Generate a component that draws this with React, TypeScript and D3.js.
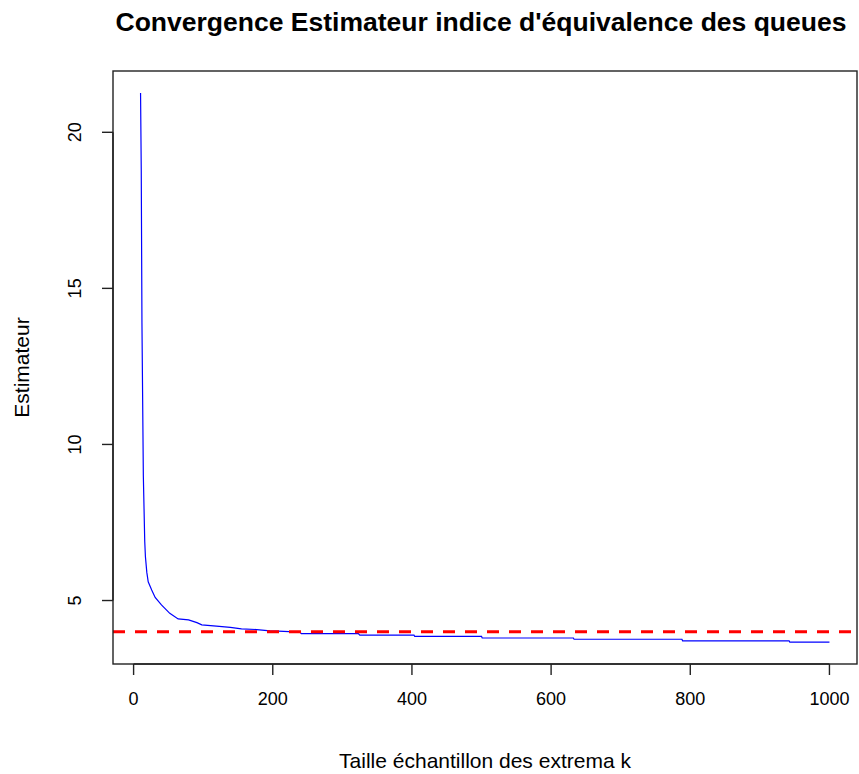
import React from "react";
import { scaleLinear, line } from "d3";

// Hill-type estimator
const kValues = [
  10, 11, 12, 14, 16, 17, 19, 21, 26, 31, 40, 52, 64, 79, 91, 98, 119, 139, 155, 177, 196, 208,
  239, 241, 323, 325, 403, 404, 500, 501, 632, 633, 788, 789, 942, 943, 1000,
];
const estimates = [
  21.26, 18.8, 13.9, 9.0, 6.9, 6.4, 5.9, 5.6, 5.34, 5.1, 4.86, 4.59, 4.41, 4.38, 4.29, 4.22, 4.18,
  4.14, 4.09, 4.07, 4.03, 4.02, 3.99, 3.94, 3.94, 3.89, 3.89, 3.85, 3.85, 3.8, 3.8, 3.76, 3.76,
  3.71, 3.71, 3.67, 3.67,
];
const referenceValue = 4;
const xTicks = [0, 200, 400, 600, 800, 1000];
const yTicks = [5, 10, 15, 20];

const title = "Convergence Estimateur indice d'équivalence des queues";
const xLabel = "Taille échantillon des extrema k";
const yLabel = "Estimateur";

const W = 859;
const H = 774;
const plot = { left: 113, right: 857, top: 71, bottom: 664 };
const font = "'Liberation Sans', Arial, sans-serif";

// R style 4% padding on the data range
const pad = (lo: number, hi: number): [number, number] => {
  const r = hi - lo;
  return [lo - 0.04 * r, hi + 0.04 * r];
};

const App: React.FC = () => {
  const x = scaleLinear()
    .domain(pad(Math.min(...kValues), Math.max(...kValues)))
    .range([plot.left, plot.right]);
  const y = scaleLinear()
    .domain(pad(Math.min(...estimates), Math.max(...estimates)))
    .range([plot.bottom, plot.top]);

  const path = line<number>()
    .x((_, i) => x(kValues[i]))
    .y((d) => y(d))(estimates);

  const cx = (plot.left + plot.right) / 2;
  const cy = (plot.top + plot.bottom) / 2;
  const axisColor = "#222";

  return (
    <svg
      width={W}
      height={H}
      style={{ position: "absolute", left: 0, top: 0, background: "#fff" }}
      fontFamily={font}
    >
      <rect x={0} y={0} width={W} height={H} fill="#fff" />
      <defs>
        <clipPath id="plotClip">
          <rect x={plot.left} y={plot.top} width={plot.right - plot.left} height={plot.bottom - plot.top} />
        </clipPath>
      </defs>

      <g clipPath="url(#plotClip)">
        <path d={path ?? ""} fill="none" stroke="#0000ff" strokeWidth={1.2} />
        <line
          x1={plot.left}
          x2={plot.right}
          y1={y(referenceValue)}
          y2={y(referenceValue)}
          stroke="#ff0000"
          strokeWidth={3}
          strokeDasharray="12 10"
        />
      </g>

      {/* box */}
      <rect
        x={plot.left}
        y={plot.top}
        width={plot.right - plot.left}
        height={plot.bottom - plot.top}
        fill="none"
        stroke={axisColor}
        strokeWidth={1.4}
      />

      {/* x axis */}
      <line x1={x(xTicks[0])} x2={x(xTicks[xTicks.length - 1])} y1={plot.bottom} y2={plot.bottom} stroke={axisColor} strokeWidth={1.4} />
      {xTicks.map((t) => (
        <g key={t}>
          <line x1={x(t)} x2={x(t)} y1={plot.bottom} y2={plot.bottom + 11} stroke={axisColor} strokeWidth={1.4} />
          <text x={x(t)} y={705} textAnchor="middle" fontSize={18} fill="#000">
            {t}
          </text>
        </g>
      ))}

      {/* y axis */}
      <line x1={plot.left} x2={plot.left} y1={y(yTicks[0])} y2={y(yTicks[yTicks.length - 1])} stroke={axisColor} strokeWidth={1.4} />
      {yTicks.map((t) => (
        <g key={t}>
          <line x1={plot.left - 11} x2={plot.left} y1={y(t)} y2={y(t)} stroke={axisColor} strokeWidth={1.4} />
          <text
            transform={`translate(81,${y(t)}) rotate(-90)`}
            textAnchor="middle"
            fontSize={18}
            fill="#000"
          >
            {t}
          </text>
        </g>
      ))}

      <text x={481} y={31} textAnchor="middle" fontSize={26.5} fontWeight="bold" fill="#000">
        {title}
      </text>
      <text x={cx} y={768} textAnchor="middle" fontSize={21} fill="#000">
        {xLabel}
      </text>
      <text transform={`translate(29,${cy}) rotate(-90)`} textAnchor="middle" fontSize={21} fill="#000">
        {yLabel}
      </text>
    </svg>
  );
};

export default App;
